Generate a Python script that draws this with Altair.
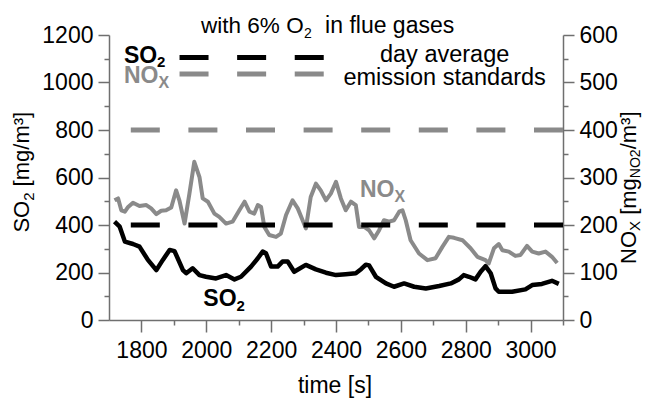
import altair as alt
import pandas as pd

FONT = "Liberation Sans"
GRAY = "#8a8a8a"
AXIS_GRAY = "#6f6f6f"

# ---------------- data ----------------
so2_time = [1717, 1733, 1749, 1774, 1794, 1820, 1846, 1866, 1887, 1902, 1928, 1938,
            1958, 1979, 1999, 2030, 2061, 2087, 2107, 2138, 2159, 2174, 2184, 2200,
            2220, 2235, 2251, 2271, 2307, 2338, 2369, 2400, 2430, 2461, 2478, 2492,
            2502, 2523, 2554, 2579, 2610, 2641, 2677, 2718, 2754, 2779, 2794, 2810,
            2830, 2846, 2861, 2877, 2892, 2902, 2943, 2984, 3005, 3035, 3066, 3087]
so2_value = [414, 393, 330, 320, 309, 253, 210, 253, 295, 290, 210, 197,
             218, 189, 182, 175, 189, 171, 182, 225, 260, 288, 281, 225,
             225, 246, 246, 203, 232, 213, 199, 189, 193, 197, 215, 233,
             230, 182, 154, 140, 154, 140, 133, 143, 154, 171, 189, 182,
             171, 203, 227, 197, 133, 119, 119, 129, 147, 152, 165, 152]

nox_time = [1717, 1728, 1738, 1749, 1759, 1774, 1794, 1815, 1830, 1846, 1861, 1876,
            1892, 1907, 1917, 1933, 1948, 1963, 1979, 1989, 2005, 2025, 2040, 2061,
            2081, 2102, 2118, 2133, 2148, 2159, 2169, 2179, 2194, 2215, 2230, 2246,
            2266, 2282, 2297, 2307, 2322, 2338, 2353, 2369, 2384, 2400, 2415, 2430,
            2446, 2461, 2471, 2487, 2502, 2518, 2533, 2548, 2564, 2579, 2595, 2605,
            2615, 2630, 2656, 2682, 2707, 2728, 2748, 2764, 2790, 2815, 2836, 2861,
            2871, 2887, 2902, 2913, 2933, 2953, 2969, 2989, 3005, 3025, 3046, 3066,
            3082]
nox_value = [252, 256, 231, 228, 238, 247, 240, 242, 235, 223, 230, 231,
             237, 273, 252, 203, 266, 333, 301, 256, 249, 224, 217, 203,
             207, 231, 249, 228, 224, 242, 238, 196, 179, 175, 182, 221,
             252, 235, 210, 193, 259, 287, 273, 252, 266, 291, 256, 231,
             249, 242, 196, 196, 189, 172, 189, 210, 207, 210, 228, 231,
             210, 168, 140, 126, 130, 154, 175, 173, 168, 151, 133, 126,
             119, 151, 160, 147, 144, 135, 137, 156, 144, 140, 144, 133,
             120]

so2_limit = [400]   # mg/m3, left axis
nox_limit = [400]   # mg_NO2/m3, right axis

x_ticks_major = [1800, 2000, 2200, 2400, 2600, 2800, 3000]
x_ticks_minor = [1900, 2100, 2300, 2500, 2700, 2900, 3100]
so2_ticks_major = [0, 200, 400, 600, 800, 1000, 1200]
so2_ticks_minor = [100, 300, 500, 700, 900, 1100]
nox_ticks_major = [0, 100, 200, 300, 400, 500, 600]
nox_ticks_minor = [50, 150, 250, 350, 450, 550]

T_DOMAIN = [1700, 3100]
SO2_DOMAIN = [0, 1200]
NOX_DOMAIN = [0, 600]

so2_df = pd.DataFrame({"t": so2_time, "v": so2_value})
nox_df = pd.DataFrame({"t": nox_time, "v": nox_value})


def tsc():
    return alt.Scale(domain=T_DOMAIN, nice=False, zero=False)


def lsc():
    return alt.Scale(domain=SO2_DOMAIN, nice=False, zero=False)


def rsc():
    return alt.Scale(domain=NOX_DOMAIN, nice=False, zero=False)


def axis(values, orient, size, labels=True, domain=True, pad=5):
    kw = dict(values=values, orient=orient, tickSize=size, tickWidth=1.5,
              tickColor=AXIS_GRAY, domain=domain, domainColor=AXIS_GRAY,
              domainWidth=1.5, labels=labels, title=None, grid=False)
    if labels:
        kw.update(labelFont=FONT, labelFontSize=23, labelColor="black",
                  labelPadding=pad, labelFlush=False, labelOverlap=False,
                  format="d")
    return alt.Axis(**kw)


X0 = lambda: alt.X("t:Q", scale=tsc(), axis=None)
YL0 = lambda: alt.Y("v:Q", scale=lsc(), axis=None)

# ---------------- data lines ----------------
nox_line = alt.Chart(nox_df).mark_line(color=GRAY, strokeWidth=4, strokeJoin="round").encode(
    x=X0(),
    y=alt.Y("v:Q", scale=rsc(), axis=axis(nox_ticks_major, "right", 11)),
)
nox_minor = alt.Chart(nox_df).mark_point(opacity=0).encode(
    x=X0(),
    y=alt.Y("v:Q", scale=rsc(), axis=axis(nox_ticks_minor, "right", 5, labels=False, domain=False)),
)
so2_line = alt.Chart(so2_df).mark_line(color="black", strokeWidth=4.5, strokeJoin="round").encode(
    x=alt.X("t:Q", scale=tsc(), axis=axis(x_ticks_major, "bottom", 12, pad=7)),
    y=alt.Y("v:Q", scale=lsc(), axis=axis(so2_ticks_major, "left", 11)),
)
so2_minor = alt.Chart(so2_df).mark_point(opacity=0).encode(
    x=alt.X("t:Q", scale=tsc(), axis=axis(x_ticks_minor, "bottom", 5, labels=False, domain=False)),
    y=alt.Y("v:Q", scale=lsc(), axis=axis(so2_ticks_minor, "left", 5, labels=False, domain=False)),
)

DASH = [29, 28.6]
so2_rule = alt.Chart(pd.DataFrame({"v": so2_limit})).mark_rule(
    color="black", strokeWidth=5, strokeDash=DASH).encode(y=YL0())
nox_rule = alt.Chart(pd.DataFrame({"v": nox_limit})).mark_rule(
    color=GRAY, strokeWidth=5, strokeDash=DASH).encode(
    y=alt.Y("v:Q", scale=rsc(), axis=None))

# legend dashes
leg_df = pd.DataFrame({"t0": [1917.5, 1917.5], "t1": [2365, 2365],
                       "v": [1105, 1036]})
leg_so2 = alt.Chart(leg_df.iloc[[0]]).mark_rule(color="black", strokeWidth=5, strokeDash=DASH).encode(
    x=alt.X("t0:Q", scale=tsc(), axis=None), x2="t1:Q", y=YL0())
leg_nox = alt.Chart(leg_df.iloc[[1]]).mark_rule(color=GRAY, strokeWidth=5, strokeDash=DASH).encode(
    x=alt.X("t0:Q", scale=tsc(), axis=None), x2="t1:Q", y=YL0())


# ---------------- text ----------------
def txt(text, t, v, size=23, color="black", weight="normal", angle=0,
        align="left", dx=0, dy=0):
    df = pd.DataFrame({"t": [t], "v": [v], "s": [text]})
    return alt.Chart(df).mark_text(
        font=FONT, fontSize=size, fontWeight=weight, color=color, angle=angle,
        align=align, baseline="alphabetic", dx=dx, dy=dy,
    ).encode(x=X0(), y=YL0(), text="s:N")


RT = 3324  # anchor of the rotated right-hand axis title

texts = [
    # title
    txt("with 6% O", 1984, 1207, size=22.5),
    txt("2", 1984, 1207, size=14, dx=103, dy=5),
    txt("in flue gases", 1984, 1207, dx=124),
    # legend
    txt("SO", 1746, 1081, weight="bold"),
    txt("2", 1746, 1081, size=15, weight="bold", dx=33.2, dy=4),
    txt("NO", 1746, 997, weight="bold", color=GRAY),
    txt("X", 1746, 997, size=16, weight="bold", color=GRAY, dx=34.5, dy=5),
    txt("day average", 2735, 1088, size=23.5, align="center"),
    txt("emission standards", 2735, 990, size=23.5, align="center"),
    # series labels
    txt("SO", 1991, 57, weight="bold"),
    txt("2", 1991, 57, size=15, weight="bold", dx=33.2, dy=5),
    txt("NO", 2474, 519, weight="bold", color=GRAY),
    txt("X", 2474, 519, size=16, weight="bold", color=GRAY, dx=34.5, dy=5),
    # x title
    txt("time [s]", 2397, -306, align="center"),
    # left title (rotated)
    txt("SO", 1453, 368, size=22, angle=270),
    txt("2", 1453, 368, size=15, angle=270, dx=31.8, dy=5),
    txt("[mg/m³]", 1453, 368, size=22, angle=270, dx=46.2),
    # right title (rotated)
    txt("NO", RT, 236, size=22, angle=270),
    txt("X", RT, 236, size=15, angle=270, dx=33, dy=4),
    txt("[mg", RT, 236, size=22, angle=270, dx=49.1),
    txt("NO2", RT, 236, size=14, angle=270, dx=85.8, dy=4),
    txt("/m³]", RT, 236, size=22, angle=270, dx=114.6),
]

chart = alt.layer(
    nox_line, so2_line, so2_rule, nox_rule, leg_so2, leg_nox, *texts, nox_minor, so2_minor
).resolve_scale(
    x="independent", y="independent"
).resolve_axis(
    x="independent", y="independent"
).properties(
    width=454, height=285,
    padding={"left": 101, "top": 27, "right": 82, "bottom": 78},
    autosize=alt.AutoSizeParams(type="none"),
    background="white",
).configure_view(stroke=None)

chart.save("out.html", embed_options={"renderer": "svg", "actions": False})
